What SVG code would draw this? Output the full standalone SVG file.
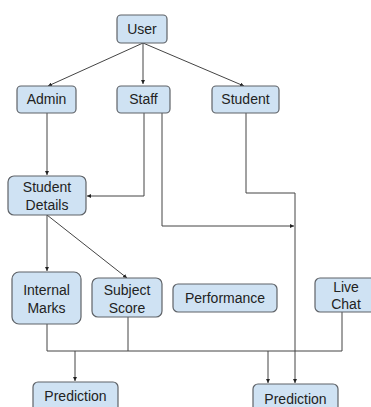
<svg xmlns="http://www.w3.org/2000/svg" width="371" height="407" viewBox="0 0 371 407">
<style>
.n rect{fill:#cfe2f3;stroke:#5f6368;stroke-width:1.2}
.n text{font-family:"Liberation Sans",Arial,sans-serif;font-size:14px;fill:#222;text-anchor:middle}
.c path{fill:none;stroke:#444;stroke-width:1}
</style>
<defs>
<marker id="a" viewBox="0 0 6 6" refX="6" refY="3" markerWidth="4" markerHeight="4" orient="auto"><path d="M0,0L6,3L0,6z" fill="#222"/></marker>
</defs>
<rect width="371" height="407" fill="#fff"/>
<g class="c">
<path d="M143,43L48,86" marker-end="url(#a)"/>
<path d="M143,43L143,84" marker-end="url(#a)"/>
<path d="M143,43L244,86" marker-end="url(#a)"/>
<path d="M47,113L47,175" marker-end="url(#a)"/>
<path d="M144,113L144,196L87,196" marker-end="url(#a)"/>
<path d="M162,113L162,226L294,226" marker-end="url(#a)"/>
<path d="M246,113L246,193L295,193L295,383" marker-end="url(#a)"/>
<path d="M47,215L47,271" marker-end="url(#a)"/>
<path d="M47,215L127,278" marker-end="url(#a)"/>
<path d="M47,324L47,351L342,351"/>
<path d="M128,317L128,351"/>
<path d="M342,312L342,351"/>
<path d="M75,351L75,381" marker-end="url(#a)"/>
<path d="M268,351L268,383" marker-end="url(#a)"/>
</g>
<g id="user" class="n"><rect x="117" y="15" width="50" height="28" rx="4"/><text x="142" y="34">User</text></g>
<g id="admin" class="n"><rect x="17" y="86" width="59" height="27" rx="4"/><text x="46.5" y="104">Admin</text></g>
<g id="staff" class="n"><rect x="117" y="86" width="53" height="27" rx="4"/><text x="143.5" y="104">Staff</text></g>
<g id="student" class="n"><rect x="212" y="86" width="67" height="27" rx="4"/><text x="245.5" y="104">Student</text></g>
<g id="student-details" class="n"><rect x="8" y="176" width="78" height="39" rx="6"/><text x="47" y="192">Student</text><text x="47" y="210">Details</text></g>
<g id="internal-marks" class="n"><rect x="12" y="272" width="69" height="52" rx="7"/><text x="46.5" y="295">Internal</text><text x="46.5" y="313">Marks</text></g>
<g id="subject-score" class="n"><rect x="92" y="278" width="70" height="39" rx="6"/><text x="127" y="295">Subject</text><text x="127" y="313">Score</text></g>
<g id="performance" class="n"><rect x="173" y="284" width="104" height="28" rx="5"/><text x="225" y="303">Performance</text></g>
<g id="live-chat" class="n"><rect x="315" y="278" width="62" height="34" rx="5"/><text x="346" y="292">Live</text><text x="346" y="309">Chat</text></g>
<g id="prediction1" class="n"><rect x="33" y="382" width="85" height="30" rx="5"/><text x="75.5" y="401">Prediction</text></g>
<g id="prediction2" class="n"><rect x="253" y="384" width="85" height="30" rx="5"/><text x="295.5" y="404">Prediction</text></g>
</svg>
